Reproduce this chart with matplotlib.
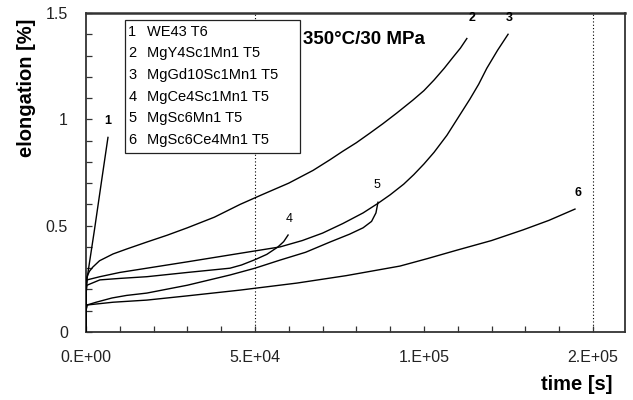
import numpy as np
import matplotlib.pyplot as plt
from matplotlib.patches import Rectangle
from matplotlib.ticker import MultipleLocator, FixedLocator, FixedFormatter

plt.rcParams['font.family'] = ['Liberation Sans', 'DejaVu Sans']

# --- creep curves, 350°C / 30 MPa (time in s, elongation in %) ---
t_we43 = [0, 0, 300, 2500, 4650, 6500]
e_we43 = [0, 0.19, 0.25, 0.48, 0.715, 0.915]

t_y4 = [0, 0, 300, 1000, 2000, 4000, 8000, 12000, 18000, 24000, 30000, 38000,
        45600, 52000, 60000, 67200, 72200, 76000, 80000, 84000, 87900, 92000,
        96700, 100000, 103000, 106000, 108500, 110800, 112700]
e_y4 = [0, 0.2, 0.26, 0.285, 0.305, 0.335, 0.367, 0.39, 0.423, 0.455, 0.49,
        0.54, 0.60, 0.645, 0.70, 0.76, 0.81, 0.85, 0.89, 0.935, 0.98, 1.03,
        1.09, 1.135, 1.185, 1.24, 1.29, 1.335, 1.38]

t_gd10 = [0, 0, 300, 4100, 10000, 18000, 30000, 45600, 57400, 64000, 70000,
          76000, 82000, 86400, 90000, 94000, 97000, 100000, 103000, 106800,
          110000, 113600, 116200, 118600, 121800, 124900]
e_gd10 = [0, 0.2, 0.245, 0.26, 0.28, 0.30, 0.33, 0.37, 0.40, 0.43, 0.465,
          0.51, 0.56, 0.605, 0.645, 0.695, 0.74, 0.79, 0.845, 0.925, 1.005,
          1.095, 1.165, 1.24, 1.325, 1.40]

t_ce4 = [0, 0, 300, 4100, 10000, 18000, 30000, 42600, 46000, 50000, 53500,
         56800, 58500, 59800]
e_ce4 = [0, 0.18, 0.22, 0.245, 0.252, 0.26, 0.28, 0.30, 0.315, 0.34, 0.365,
         0.40, 0.425, 0.456]

t_sc6 = [0, 0, 300, 3000, 7700, 12000, 18000, 30000, 42600, 50000, 57400,
         65000, 72200, 78000, 82000, 84500, 85800, 86400]
e_sc6 = [0, 0.1, 0.127, 0.14, 0.16, 0.172, 0.183, 0.22, 0.268, 0.30, 0.338,
         0.375, 0.423, 0.46, 0.49, 0.52, 0.56, 0.61]

t_sc6ce4 = [0, 0, 300, 8000, 18000, 30000, 45600, 62400, 77000, 92900, 101000,
            109800, 120000, 129300, 137000, 144700]
e_sc6ce4 = [0, 0.1, 0.127, 0.14, 0.15, 0.17, 0.197, 0.23, 0.265, 0.31, 0.345,
            0.385, 0.43, 0.48, 0.525, 0.578]

names = ['WE43 T6', 'MgY4Sc1Mn1 T5', 'MgGd10Sc1Mn1 T5', 'MgCe4Sc1Mn1 T5',
         'MgSc6Mn1 T5', 'MgSc6Ce4Mn1 T5']
curves = [(t_we43, e_we43), (t_y4, e_y4), (t_gd10, e_gd10),
          (t_ce4, e_ce4), (t_sc6, e_sc6), (t_sc6ce4, e_sc6ce4)]

# curve number tags near the ends
tag_x = [6500, 114200, 125400, 60000, 86100, 145600]
tag_y = [0.99, 1.475, 1.475, 0.53, 0.69, 0.655]
tag_bold = [True, True, True, False, False, True]

x_ticks = [0, 5e4, 1e5, 1.5e5]
x_ticklabels = ['0.E+00', '5.E+04', '1.E+05', '2.E+05']
y_ticks = [0, 0.5, 1, 1.5]
y_ticklabels = ['0', '0.5', '1', '1.5']

fig = plt.figure(figsize=(6.33, 4.0), dpi=100)
ax = fig.add_axes([86 / 633, 68 / 400, 539 / 633, 319 / 400])

for t, e in curves:
    ax.plot(t, e, color='black', lw=1.0, zorder=3)

for i in range(len(names)):
    ax.text(tag_x[i], tag_y[i], str(i + 1), ha='center', va='center',
            fontsize=9, fontweight='bold' if tag_bold[i] else 'normal', zorder=4)

# dotted reference lines
for xv in (5e4, 1.5e5):
    ax.axvline(xv, color='black', ls=(0, (1, 2)), lw=0.8, zorder=1)

ax.set_xlim(0, 1.595e5)
ax.set_ylim(0, 1.5)

ax.xaxis.set_major_locator(FixedLocator(x_ticks))
ax.xaxis.set_major_formatter(FixedFormatter(x_ticklabels))
ax.xaxis.set_minor_locator(MultipleLocator(1e4))
ax.yaxis.set_major_locator(FixedLocator(y_ticks))
ax.yaxis.set_major_formatter(FixedFormatter(y_ticklabels))
ax.yaxis.set_minor_locator(MultipleLocator(0.1))
ax.tick_params(which='both', direction='in', length=4, width=0.9, color='#333333')
ax.tick_params(axis='x', which='major', pad=13, labelsize=11.5, labelcolor='#222222')
ax.tick_params(axis='y', which='major', pad=13, labelsize=11.5, labelcolor='#222222')

for side in ax.spines:
    ax.spines[side].set_color('#333333')
    ax.spines[side].set_linewidth(1.3)
ax.spines['top'].set_linewidth(1.8)

# legend box drawn by hand: number column + name column
ax.add_patch(Rectangle((0.0724, 0.561), 0.325, 0.417, transform=ax.transAxes,
                       facecolor='white', edgecolor='#222222', lw=0.9, zorder=5))
row_y = [32, 53, 75, 97, 118, 140]
for i, name in enumerate(names):
    yy = (332 - row_y[i]) / 319
    ax.text(0.0785, yy, str(i + 1), transform=ax.transAxes, fontsize=10.5,
            va='center', ha='left', zorder=6)
    ax.text(0.113, yy, name, transform=ax.transAxes, fontsize=10.5,
            va='center', ha='left', zorder=6)

ax.text(0.402, (332 - 40) / 319, '350°C/30 MPa', transform=ax.transAxes,
        fontsize=13.5, fontweight='bold', va='center', ha='left', zorder=6)

fig.text(26 / 633, 1 - 88 / 400, 'elongation [%]', rotation=90, fontsize=14.5,
         fontweight='bold', ha='center', va='center')
fig.text(577 / 633, 1 - 384 / 400, 'time [s]', fontsize=14.5,
         fontweight='bold', ha='center', va='center')

fig.savefig('out.png', dpi=100)
